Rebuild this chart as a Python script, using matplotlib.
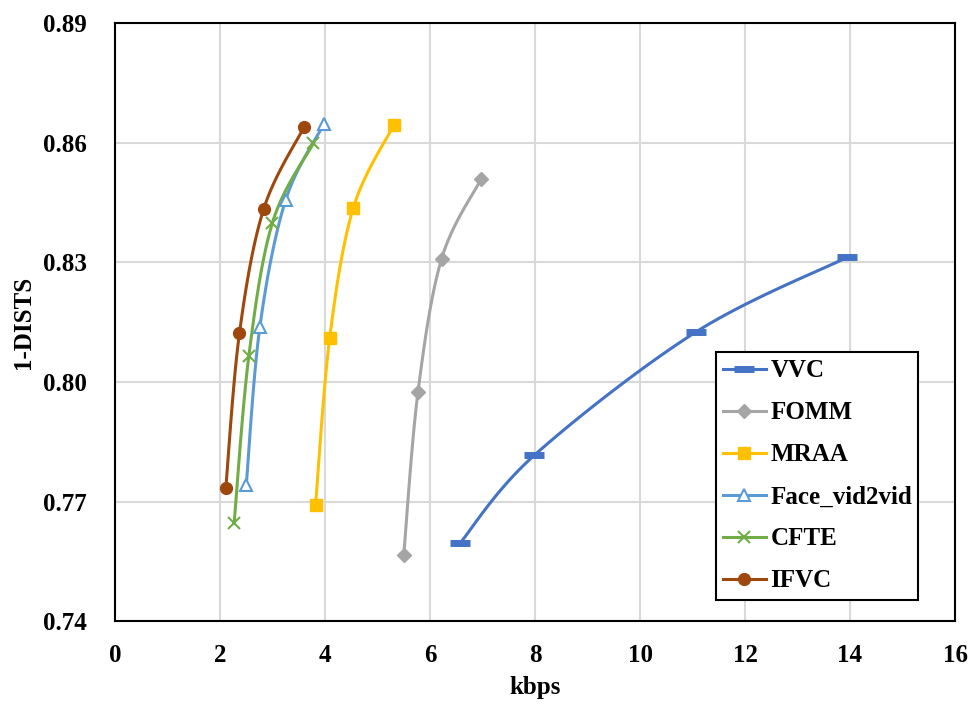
import numpy as np
from matplotlib import pyplot as plt
from matplotlib.ticker import FormatStrFormatter

plt.rcParams['font.family'] = ['Liberation Serif', 'DejaVu Serif']
plt.rcParams['font.weight'] = 'bold'

# values
vvc_x = [6.57, 7.99, 11.07, 13.95]
vvc_y = [0.7596, 0.7817, 0.8126, 0.8313]
fomm_x = [5.50, 5.77, 6.22, 6.97]
fomm_y = [0.7567, 0.7974, 0.8309, 0.8508]
mraa_x = [3.82, 4.09, 4.54, 5.31]
mraa_y = [0.7692, 0.8111, 0.8437, 0.8644]
fv2v_x = [2.50, 2.76, 3.25, 3.98]
fv2v_y = [0.7742, 0.8139, 0.8456, 0.8647]
cfte_x = [2.27, 2.55, 3.00, 3.78]
cfte_y = [0.7648, 0.8066, 0.8400, 0.8599]
ifvc_x = [2.11, 2.37, 2.83, 3.60]
ifvc_y = [0.7734, 0.8122, 0.8433, 0.8639]

names = ['VVC', 'FOMM', 'MRAA', 'Face_vid2vid', 'CFTE', 'IFVC']


def smooth(xs, ys, n=30):
    # excel-like smoothed line: catmull-rom through the points
    p = np.column_stack([xs, ys]).astype(float)
    # scale so both axes weigh about the same
    sc = np.array([1 / 16.0, 1 / 0.15])
    q = p * sc
    pts = np.vstack([q[0], q, q[-1]])
    out = []
    t = np.linspace(0, 1, n)
    for i in range(1, len(pts) - 2):
        p0, p1, p2, p3 = pts[i - 1], pts[i], pts[i + 1], pts[i + 2]
        c1 = p1 + (p2 - p0) / 6
        c2 = p2 - (p3 - p1) / 6
        seg = ((1 - t) ** 3)[:, None] * p1 + (3 * (1 - t) ** 2 * t)[:, None] * c1 \
            + (3 * (1 - t) * t ** 2)[:, None] * c2 + (t ** 3)[:, None] * p2
        out.append(seg)
    c = np.vstack(out) / sc
    return c[:, 0], c[:, 1]


fig = plt.figure(figsize=(9.77, 7.04), dpi=100)
ax = fig.add_axes([0.1177, 0.1172, 0.8598, 0.8501])

series = [
    (vvc_x, vvc_y, '#4472C4', dict(marker='_', ms=15, mew=5)),
    (fomm_x, fomm_y, '#A5A5A5', dict(marker='D', ms=7.5)),
    (mraa_x, mraa_y, '#FFC000', dict(marker='s', ms=9)),
    (fv2v_x, fv2v_y, '#5B9BD5', dict(marker='^', ms=8.5, mfc='white', mew=1.5)),
    (cfte_x, cfte_y, '#70AD47', dict(marker='x', ms=8, mew=1.5)),
    (ifvc_x, ifvc_y, '#9E480E', dict(marker='o', ms=8.5)),
]

for (xs, ys, col, mk), name in zip(series, names):
    sx, sy = smooth(xs, ys)
    ax.plot(sx, sy, color=col, lw=2.2, zorder=3)
    ax.plot(xs, ys, ls='none', color=col, zorder=4, **mk)
    # legend entry with line + marker
    ax.plot([], [], color=col, lw=2.2, label=name, **mk)

ax.set_xlim(0, 16)
ax.set_ylim(0.74, 0.89)
ax.set_xticks(np.arange(0, 17, 2))
ax.set_yticks([0.74, 0.77, 0.80, 0.83, 0.86, 0.89])
ax.yaxis.set_major_formatter(FormatStrFormatter('%.2f'))
ax.grid(True, color='#D9D9D9', lw=1.5)
ax.set_axisbelow(True)
ax.tick_params(length=0, labelsize=18)
ax.tick_params(axis='y', pad=20)
ax.tick_params(axis='x', pad=16)
for s in ax.spines.values():
    s.set_color('black')
    s.set_linewidth(1.5)

ax.set_xlabel('kbps', fontsize=18, fontweight='bold', labelpad=7)
ax.set_ylabel('1-DISTS', fontsize=18, fontweight='bold', labelpad=6)

leg = ax.legend(loc='lower left', bbox_to_anchor=(0.715, 0.036, 0.241, 0.426),
                mode='expand', fontsize=18, frameon=True, fancybox=False,
                edgecolor='black', borderaxespad=0, handlelength=1.7,
                handletextpad=0.2, labelspacing=0.76, borderpad=0.3)
leg.get_frame().set_linewidth(1.5)
leg.get_frame().set_alpha(1)

fig.savefig('out.png', dpi=100)
